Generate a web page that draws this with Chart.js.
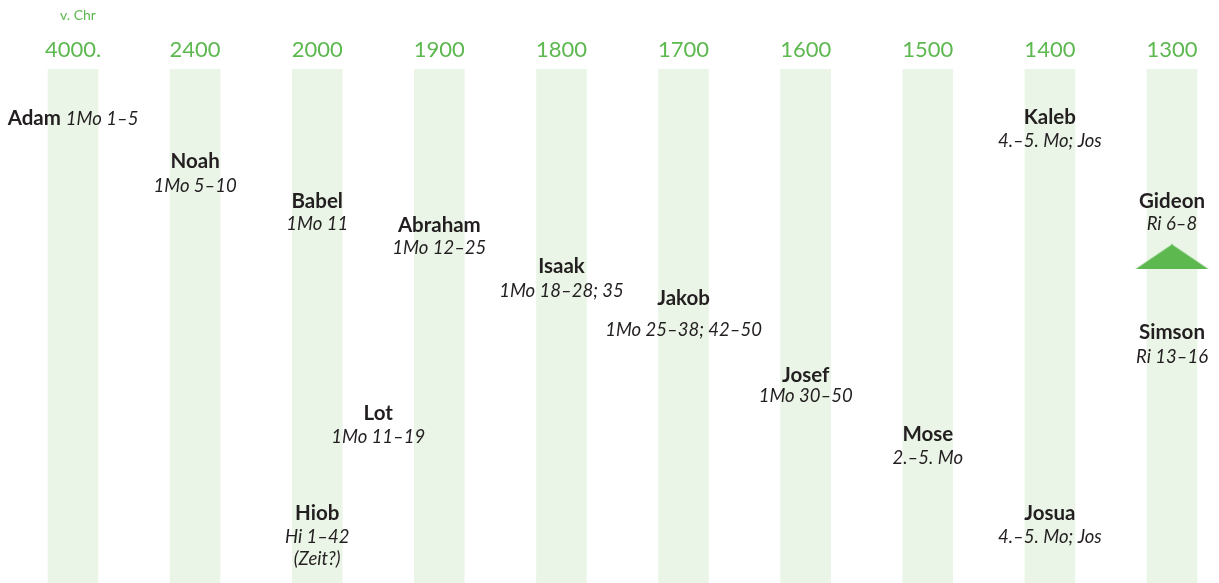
<!DOCTYPE html>
<html><head><meta charset="utf-8">
<script src="https://cdn.jsdelivr.net/npm/chart.js@4/dist/chart.umd.min.js"></script>
<style>html,body{margin:0;padding:0;background:#fff}#wrap{width:1219px;height:583px}</style>
</head><body><div id="wrap"><canvas id="c" width="1219" height="583"></canvas></div>
<script>
// Timeline columns (tick labels, v. Chr)
const tickLabels = ["4000.", "2400", "2000", "1900", "1800", "1700", "1600", "1500", "1400", "1300"];
const axisNote = "v. Chr";
// Persons / events
const names = ["Adam","Noah","Babel","Abraham","Isaak","Jakob","Josef","Lot","Mose","Hiob","Kaleb","Josua","Gideon","Simson"];
const refs  = ["1Mo 1–5","1Mo 5–10","1Mo 11","1Mo 12–25","1Mo 18–28; 35","1Mo 25–38; 42–50","1Mo 30–50","1Mo 11–19","2.–5. Mo","Hi 1–42\n(Zeit?)","4.–5. Mo; Jos","4.–5. Mo; Jos","Ri 6–8","Ri 13–16"];
const xPos  = [0, 1, 2, 3, 4, 5, 6, 2.5, 7, 2, 8, 8, 9, 9];
const nameY = [49, 92, 132, 156, 198, 230, 307, 345, 366, 445, 48, 445, 132, 264];
const refY  = [49, 117, 155, 179, 222, 261, 328, 369, 390, 469, 72, 469, 155, 288];
const inlineRef = [true,false,false,false,false,false,false,false,false,false,false,false,false,false];
// Marker (triangle) between Gideon and Simson
const markerX = [9];
const markerY = [188];
const yRange = [0, 515];

const GREEN = "#5cb84f";
const BAND = "#eaf5e7";
const TEXT = "#231f20";

const tri = document.createElement('canvas');
tri.width = 74; tri.height = 25;
(function(){const g=tri.getContext('2d');g.fillStyle=GREEN;g.beginPath();g.moveTo(0,25);g.lineTo(37,0);g.lineTo(74,25);g.closePath();g.fill();})();

const labelPlugin = {
  id: 'labels',
  afterDatasetsDraw(chart) {
    const ctx = chart.ctx, xs = chart.scales.x, ys = chart.scales.y;
    ctx.save();
    ctx.textBaseline = 'middle';
    const nameFont = 'bold 20.5px Lato';
    const refFont = 'italic 18.5px Lato';
    for (let i = 0; i < names.length; i++) {
      const px = xs.getPixelForValue(xPos[i]);
      if (inlineRef[i]) {
        ctx.font = nameFont; const w1 = ctx.measureText(names[i] + ' ').width;
        ctx.font = refFont; const w2 = ctx.measureText(refs[i]).width;
        const start = px - (w1 + w2) / 2;
        const py = ys.getPixelForValue(nameY[i]);
        ctx.textAlign = 'left'; ctx.fillStyle = TEXT;
        ctx.font = nameFont; ctx.fillText(names[i] + ' ', start, py);
        ctx.font = refFont; ctx.fillText(refs[i], start + w1, py + 1);
        continue;
      }
      ctx.textAlign = 'center'; ctx.fillStyle = TEXT;
      ctx.font = nameFont;
      ctx.fillText(names[i], px, ys.getPixelForValue(nameY[i]));
      ctx.font = refFont;
      refs[i].split('\n').forEach((line, k) => {
        ctx.fillText(line, px, ys.getPixelForValue(refY[i]) + k * 22);
      });
    }
    // axis note
    ctx.font = '14px Lato'; ctx.fillStyle = GREEN; ctx.textAlign = 'center';
    ctx.fillText(axisNote, xs.getPixelForValue(0) + 5, 15);
    ctx.restore();
  }
};

new Chart(document.getElementById('c'), {
  type: 'bar',
  data: {
    datasets: [
      {
        type: 'bar',
        data: tickLabels.map((t, i) => ({x: i, y: yRange})),
        backgroundColor: BAND,
        barThickness: 50,
        borderWidth: 0,
        clip: false,
        order: 2
      },
      {
        type: 'scatter',
        data: markerX.map((x, i) => ({x: x, y: markerY[i]})),
        pointStyle: tri,
        pointRadius: 12,
        clip: false,
        order: 1
      }
    ]
  },
  options: {
    responsive: false,
    animation: false,
    events: [],
    layout: {autoPadding: false, padding: {left: 73, right: 47, top: 31, bottom: 0}},
    plugins: {legend: {display: false}, tooltip: {enabled: false}},
    scales: {
      x: {
        type: 'linear', position: 'top', min: 0, max: 9, offset: false,
        grid: {display: false, drawTicks: false},
        border: {display: false},
        ticks: {
          stepSize: 1, autoSkip: false, maxRotation: 0, padding: 6,
          color: GREEN, font: {family: 'Lato', size: 22},
          callback: (v) => tickLabels[v] ?? ''
        }
      },
      y: {
        type: 'linear', reverse: true, min: yRange[0], max: yRange[1], display: false
      }
    }
  },
  plugins: [labelPlugin]
});
</script>
</body></html>
